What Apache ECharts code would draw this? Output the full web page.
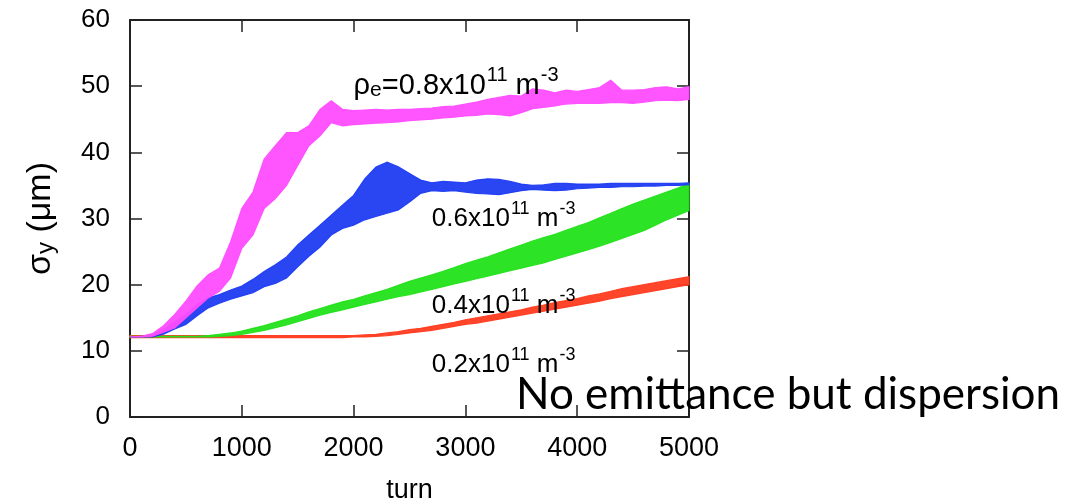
<!DOCTYPE html>
<html>
<head>
<meta charset="utf-8">
<script src="https://cdn.jsdelivr.net/npm/echarts@6/dist/echarts.min.js"></script>
<style>html,body{margin:0;padding:0;background:#fff}#c{width:1068px;height:504px}</style>
</head>
<body>
<div id="c"></div>
<script>
// turn samples (step 100)
var turns = [0,100,200,300,400,500,600,700,800,900,1000,1100,1200,1300,1400,1500,1600,1700,1800,1900,2000,2100,2200,2300,2400,2500,2600,2700,2800,2900,3000,3100,3200,3300,3400,3500,3600,3700,3800,3900,4000,4100,4200,4300,4400,4500,4600,4700,4800,4900,5000];

// rho_e = 0.8e11 (magenta) band
var pinkLow  = [12.1,12.1,12.2,12.8,13.5,15.0,16.5,18.0,19.0,21.0,25.5,27.5,31.5,33.0,35.0,38.0,41.0,42.5,44.5,44.0,44.2,44.3,44.4,44.5,44.6,44.8,44.9,45.0,45.2,45.3,45.5,45.6,45.8,45.7,45.5,46.0,46.6,46.8,47.0,47.3,47.4,47.4,47.4,47.5,47.5,47.4,47.6,47.8,47.9,47.8,48.0];
var pinkHigh = [12.1,12.2,12.6,13.8,15.5,17.5,19.8,21.5,22.5,26.5,31.5,34.0,39.0,41.0,43.0,43.0,44.0,46.5,47.8,46.5,46.3,46.4,46.5,46.4,46.5,46.5,46.6,46.7,46.9,47.0,47.3,47.6,48.0,48.3,48.6,48.5,49.6,49.4,49.0,49.4,49.2,49.5,49.8,50.9,49.4,49.4,49.5,49.8,49.9,49.6,49.9];

// 0.6e11 (blue) band
var blueLow  = [12.1,12.1,12.1,12.5,13.3,14.0,15.3,16.5,17.2,17.8,18.3,18.8,19.7,20.2,21.0,22.7,24.3,25.7,27.5,28.5,29.0,29.8,30.3,30.8,31.3,32.5,33.8,34.2,34.1,34.2,34.0,33.8,33.7,33.6,33.9,34.2,34.4,34.3,34.2,34.3,34.5,34.6,34.7,34.7,34.8,34.8,34.9,34.9,35.0,35.0,35.1];
var blueHigh = [12.1,12.2,12.4,13.3,14.4,15.5,17.0,18.0,18.5,19.2,19.8,20.8,22.0,23.0,24.2,26.0,27.5,29.0,30.5,32.0,33.5,36.0,37.8,38.5,37.8,36.8,35.8,35.4,35.6,35.5,35.4,35.8,36.0,35.9,35.6,35.2,35.0,35.1,35.3,35.3,35.2,35.2,35.2,35.3,35.3,35.3,35.3,35.3,35.3,35.3,35.4];

// 0.4e11 (green) band
var greenLow  = [12.1,12.1,12.1,12.1,12.1,12.1,12.1,12.1,12.2,12.3,12.5,12.8,13.1,13.5,13.9,14.4,14.9,15.4,15.8,16.2,16.6,17.0,17.4,17.8,18.2,18.5,18.9,19.3,19.7,20.1,20.5,20.9,21.3,21.7,22.1,22.5,22.9,23.3,23.8,24.3,24.8,25.3,25.8,26.4,27.0,27.6,28.2,29.0,29.8,30.5,31.2];
var greenHigh = [12.2,12.2,12.2,12.2,12.2,12.2,12.2,12.3,12.5,12.7,13.0,13.4,13.8,14.3,14.8,15.3,15.9,16.4,16.9,17.4,17.8,18.3,18.8,19.3,19.9,20.5,21.0,21.5,22.0,22.6,23.2,23.7,24.2,24.8,25.4,26.0,26.6,27.1,27.6,28.2,28.8,29.4,30.1,30.8,31.5,32.2,32.8,33.4,34.0,34.6,35.3];

// 0.2e11 (red) band
var redLow  = [12.0,12.0,12.0,12.0,12.0,12.0,12.0,12.0,12.0,12.0,12.0,12.0,12.0,12.0,12.0,12.0,12.0,12.0,12.0,12.0,12.1,12.1,12.2,12.3,12.5,12.7,12.9,13.1,13.4,13.7,14.0,14.2,14.5,14.8,15.1,15.4,15.7,16.0,16.3,16.6,16.9,17.2,17.5,17.9,18.2,18.5,18.8,19.1,19.4,19.7,20.0];
var redHigh = [12.3,12.3,12.3,12.3,12.3,12.3,12.3,12.3,12.3,12.3,12.3,12.3,12.3,12.3,12.3,12.3,12.3,12.3,12.3,12.3,12.3,12.4,12.5,12.7,12.9,13.2,13.4,13.7,14.0,14.3,14.7,15.0,15.3,15.6,15.9,16.2,16.6,16.9,17.3,17.6,17.9,18.3,18.6,19.0,19.4,19.7,20.0,20.3,20.6,20.9,21.2];

// annotations
var labelTurns  = [2000, 2700, 2700, 2700];
var labelValues = [50.0, 29.9, 16.8, 7.9];
var labelTexts  = [
  '{L|ρ}{lb|e}{L|=0.8x10}{ls|11}{L| m}{ls|-3}',
  '{m|0.6x10}{s|11}{m| m}{s|-3}',
  '{m|0.4x10}{s|11}{m| m}{s|-3}',
  '{m|0.2x10}{s|11}{m| m}{s|-3}'
];
var xTicks = [0, 1000, 2000, 3000, 4000, 5000];
var yTicks = [0, 10, 20, 30, 40, 50, 60];

var FONT = 'Liberation Sans';
var AX = '#222';
var TXT = '#000';

function band(name, low, high, color) {
  return {
    type: 'custom', name: name, coordinateSystem: 'cartesian2d',
    xAxisIndex: 0, yAxisIndex: 0,
    data: [[0, 0]],
    encode: { x: 0, y: 1 },
    silent: true,
    renderItem: function (params, api) {
      var pts = [];
      for (var i = 0; i < turns.length; i++) pts.push(api.coord([turns[i], high[i]]));
      for (var j = turns.length - 1; j >= 0; j--) pts.push(api.coord([turns[j], low[j]]));
      return { type: 'polygon', shape: { points: pts }, style: { fill: color, stroke: color, lineWidth: 1.2, opacity: 0.95 } };
    },
    z: 3
  };
}

var rich = {
  m: { fontFamily: FONT, fontSize: 26, lineHeight: 26, color: TXT, verticalAlign: 'bottom' },
  s: { fontFamily: FONT, fontSize: 18, lineHeight: 18, color: TXT, verticalAlign: 'bottom', padding: [0, 0, 14, 1] },
  L: { fontFamily: FONT, fontSize: 29, lineHeight: 29, color: TXT, verticalAlign: 'bottom' },
  lb: { fontFamily: FONT, fontSize: 21, lineHeight: 21, color: TXT, verticalAlign: 'bottom' },
  ls: { fontFamily: FONT, fontSize: 20, lineHeight: 20, color: TXT, verticalAlign: 'bottom', padding: [0, 0, 15, 1] }
};
var nameRich = {
  n: { fontFamily: FONT, fontSize: 34, lineHeight: 34, color: TXT, verticalAlign: 'bottom' },
  nb: { fontFamily: FONT, fontSize: 24, lineHeight: 24, color: TXT, verticalAlign: 'bottom' }
};

var labelData = labelTurns.map(function (t, i) { return { value: [t, labelValues[i]], text: labelTexts[i] }; });

var chart = echarts.init(document.getElementById('c'), null, { renderer: 'canvas' });
chart.setOption({
  animation: false,
  backgroundColor: '#fff',
  grid: { left: 130, right: 379, top: 20, bottom: 87, containLabel: false, outerBoundsMode: 'none' },
  xAxis: [{
    type: 'value', min: 0, max: 5000, interval: 1000, position: 'bottom',
    name: 'turn', nameLocation: 'middle', nameGap: 60,
    nameTextStyle: { fontFamily: FONT, fontSize: 27, color: TXT },
    axisLine: { show: true, onZero: false, lineStyle: { color: AX, width: 2 } },
    axisTick: { show: true, inside: true, length: 12, lineStyle: { color: AX, width: 1.5 } },
    axisLabel: { fontFamily: FONT, fontSize: 27, color: TXT, margin: 18, formatter: function (v) { return xTicks.indexOf(v) >= 0 ? String(v) : ''; } },
    splitLine: { show: false }
  }, {
    type: 'value', min: 0, max: 5000, interval: 1000, position: 'top',
    axisLine: { show: true, onZero: false, lineStyle: { color: AX, width: 2 } },
    axisTick: { show: true, inside: true, length: 12, lineStyle: { color: AX, width: 1.5 } },
    axisLabel: { show: false }, splitLine: { show: false }
  }],
  yAxis: [{
    type: 'value', min: 0, max: 60, interval: 10, position: 'left',
    name: '{n|σ}{nb|y}{n| (μm)}', nameLocation: 'middle', nameGap: 72,
    nameTextStyle: { rich: nameRich },
    axisLine: { show: true, onZero: false, lineStyle: { color: AX, width: 2 } },
    axisTick: { show: true, inside: true, length: 12, lineStyle: { color: AX, width: 1.5 } },
    axisLabel: { fontFamily: FONT, fontSize: 26, color: TXT, margin: 20, formatter: function (v) { return yTicks.indexOf(v) >= 0 ? String(v) : ''; } },
    splitLine: { show: false }
  }, {
    type: 'value', min: 0, max: 60, interval: 10, position: 'right',
    axisLine: { show: true, onZero: false, lineStyle: { color: AX, width: 2 } },
    axisTick: { show: true, inside: true, length: 12, lineStyle: { color: AX, width: 1.5 } },
    axisLabel: { show: false }, splitLine: { show: false }
  }],
  series: [
    band('0.2', redLow, redHigh, '#ff3b1f'),
    band('0.4', greenLow, greenHigh, '#22e21a'),
    band('0.6', blueLow, blueHigh, '#1f3cf2'),
    band('0.8', pinkLow, pinkHigh, '#ff4cff'),
    {
      type: 'scatter', name: 'labels', symbolSize: 0, silent: true, z: 5,
      itemStyle: { opacity: 1, color: TXT },
      data: labelData,
      label: {
        show: true, position: 'right', distance: 0, color: TXT, opacity: 1,
        formatter: function (p) { return p.data.text; },
        rich: rich
      }
    }
  ],
  graphic: [{
    type: 'text', left: 516, top: 373, z: 100,
    style: { text: 'No emittance but dispersion', fontFamily: 'Lato', fontSize: 44, fill: '#000' }
  }]
});
</script>
</body>
</html>
